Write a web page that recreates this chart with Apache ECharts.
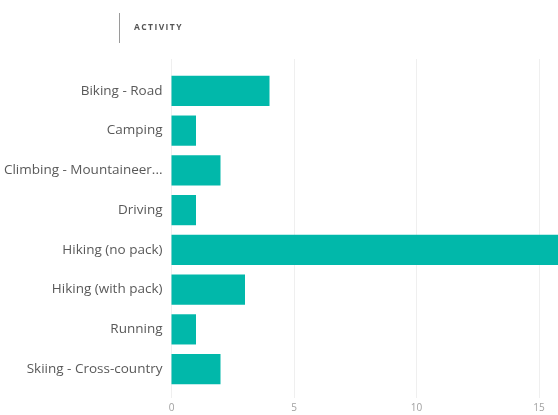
<!DOCTYPE html>
<html>
<head>
<meta charset="utf-8">
<script src="https://cdn.jsdelivr.net/npm/echarts@6/dist/echarts.min.js"></script>
<style>
  html, body { margin: 0; padding: 0; background: #fff; }
  #chart { width: 558px; height: 415px; }
</style>
</head>
<body>
<div id="chart"></div>
<script>
// Activity counts, top to bottom
const categories = [
  'Biking - Road',
  'Camping',
  'Climbing - Mountaineering',
  'Driving',
  'Hiking (no pack)',
  'Hiking (with pack)',
  'Running',
  'Skiing - Cross-country'
];
const counts = [4, 1, 2, 1, 16, 3, 1, 2];
const xTicks = [0, 5, 10, 15, 20];

const xMin = xTicks[0];
const xMax = xTicks[xTicks.length - 1];
const xStep = xTicks[1] - xTicks[0];

const chart = echarts.init(document.getElementById('chart'), null, { renderer: 'canvas' });

const FONT = '"Open Sans", "Noto Sans", sans-serif';

chart.setOption({
  animation: false,
  backgroundColor: '#ffffff',
  graphic: [
    {
      type: 'line',
      shape: { x1: 119.5, y1: 13, x2: 119.5, y2: 43 },
      style: { stroke: '#9a9a9a', lineWidth: 1 }
    },
    {
      type: 'text',
      left: 134,
      top: 23.5,
      style: {
        text: 'ACTIVITY'.split('').join('\u2009'),
        font: 'bold 8.5px ' + FONT,
        fill: '#555555'
      }
    }
  ],
  grid: [
    // bars (the scale runs on past the right edge of the canvas)
    { left: 171.5, width: 490, top: 71, height: 318, containLabel: false, outerBoundsMode: 'none' },
    // vertical guide lines and tick labels
    { left: 171.5, width: 490, top: 59, height: 339, containLabel: false, outerBoundsMode: 'none' }
  ],
  xAxis: [
    {
      gridIndex: 0,
      type: 'value',
      min: xMin, max: xMax, interval: xStep,
      axisLine: { show: false },
      axisTick: { show: false },
      axisLabel: { show: false },
      splitLine: { show: false }
    },
    {
      gridIndex: 1,
      type: 'value',
      min: xMin, max: xMax, interval: xStep,
      axisLine: { show: false },
      axisTick: { show: false },
      axisLabel: { color: '#a0a0a0', fontSize: 10, fontFamily: FONT, margin: 5 },
      splitLine: { show: true, lineStyle: { color: '#efefef', width: 1 } }
    }
  ],
  yAxis: [
    {
      gridIndex: 0,
      type: 'category',
      data: categories,
      inverse: true,
      axisLine: { show: false },
      axisTick: { show: false },
      axisLabel: {
        color: '#595959',
        fontSize: 13.5,
        fontFamily: FONT,
        margin: 9,
        width: 160,
        overflow: 'truncate',
        ellipsis: '...'
      }
    },
    {
      gridIndex: 1,
      type: 'value',
      show: false
    }
  ],
  series: [
    {
      type: 'bar',
      xAxisIndex: 0,
      yAxisIndex: 0,
      data: counts,
      barCategoryGap: '24%',
      itemStyle: { color: '#01B8AA' },
      z: 5
    }
  ]
});
</script>
</body>
</html>
